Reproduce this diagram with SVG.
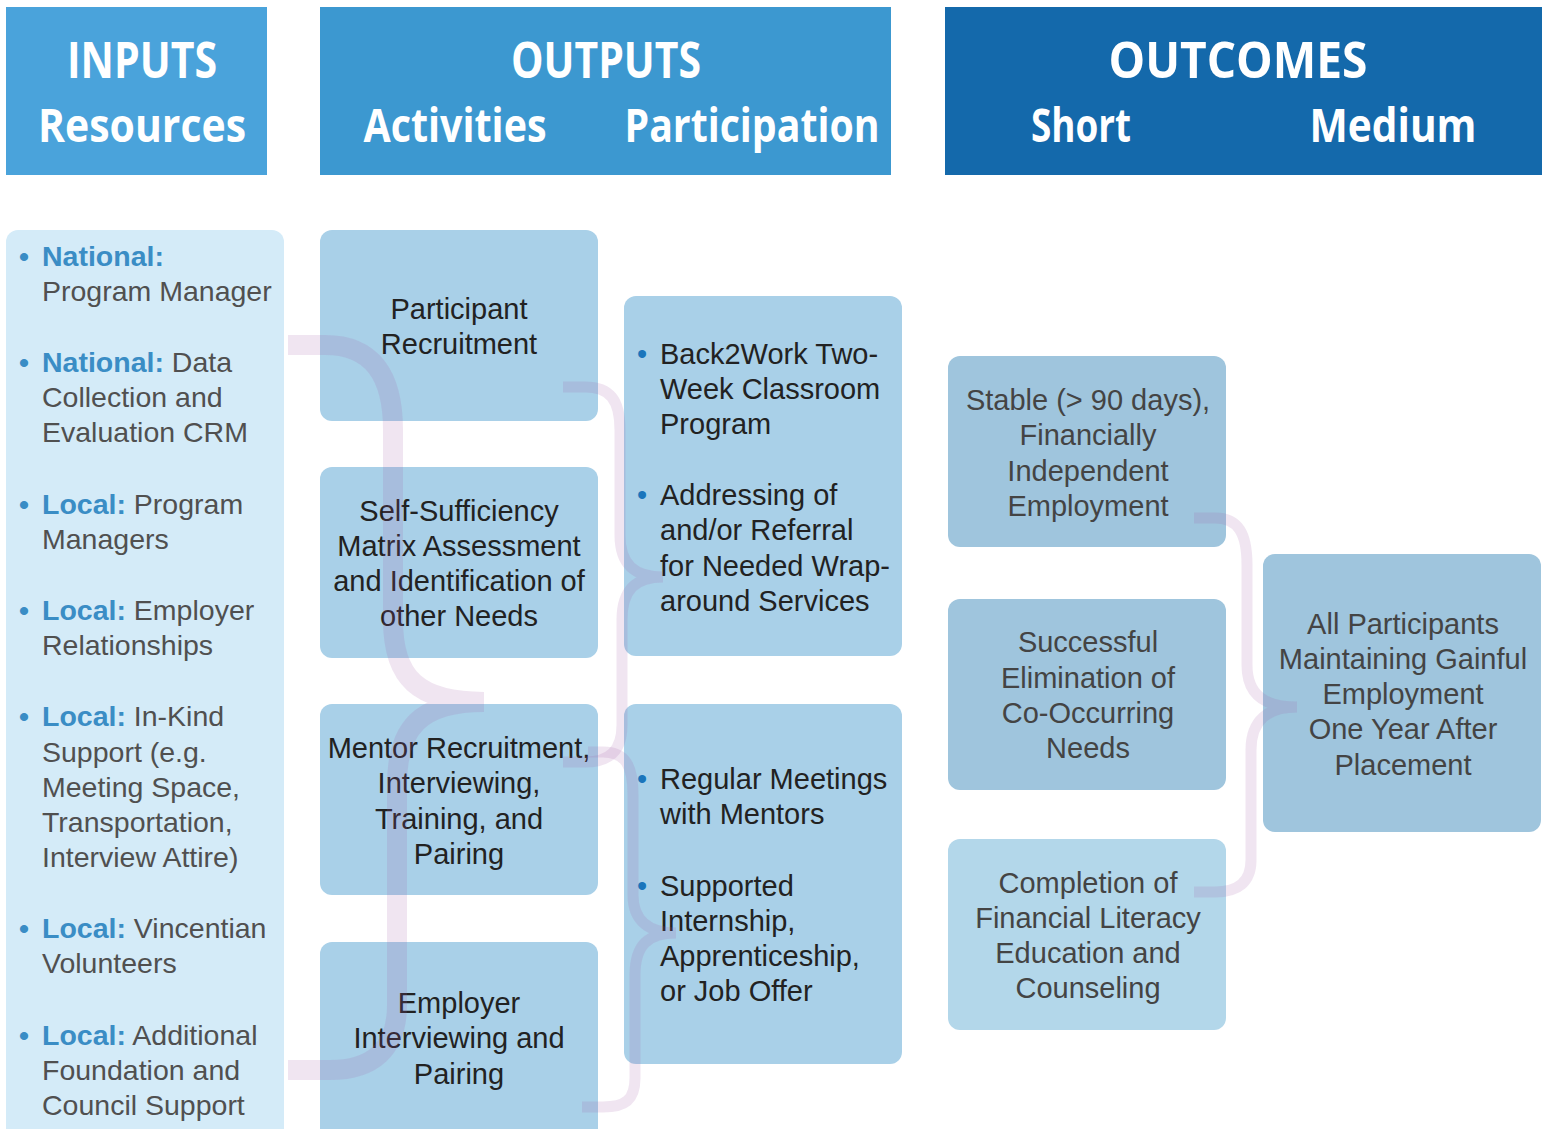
<svg xmlns="http://www.w3.org/2000/svg" width="1554" height="1129" viewBox="0 0 1554 1129">
<style>
.hd{fill:#fff;font-family:"Open Sans","Liberation Sans",sans-serif;font-weight:bold;text-anchor:middle}
.h1{font-size:50px}
.h2{font-size:46px}
.inp{font-family:"Liberation Sans",Arial,sans-serif;font-size:28.5px;fill:#505050}
.lbl{fill:#3a8dc5;font-weight:bold}
.act{font-family:"Liberation Sans",Arial,sans-serif;font-size:29px;fill:#222;text-anchor:middle}
.par{font-family:"Liberation Sans",Arial,sans-serif;font-size:29px;fill:#222}
.pb{fill:#1a75bb}
.out{font-family:"Liberation Sans",Arial,sans-serif;font-size:29px;fill:#444;text-anchor:middle}
.abox{fill:#a9d0e8}
.obox{fill:#9fc5dd}
.brace{fill:none;stroke:#a060a8;stroke-opacity:0.16}
</style>
<rect width="1554" height="1129" fill="#fff"/>
<g id="header-inputs">
<rect x="6" y="7" width="261" height="168" fill="#4aa3db"/>
<text class="hd h1" x="142" y="78" textLength="150" lengthAdjust="spacingAndGlyphs">INPUTS</text>
<text class="hd h2" x="142" y="142" textLength="208" lengthAdjust="spacingAndGlyphs">Resources</text>
</g>
<g id="header-outputs">
<rect x="320" y="7" width="571" height="168" fill="#3c98d0"/>
<text class="hd h1" x="606" y="78" textLength="190" lengthAdjust="spacingAndGlyphs">OUTPUTS</text>
<text class="hd h2" x="455" y="142" textLength="183" lengthAdjust="spacingAndGlyphs">Activities</text>
<text class="hd h2" x="752" y="142" textLength="255" lengthAdjust="spacingAndGlyphs">Participation</text>
</g>
<g id="header-outcomes">
<rect x="945" y="7" width="597" height="168" fill="#1469ab"/>
<text class="hd h1" x="1238" y="78" textLength="259" lengthAdjust="spacingAndGlyphs">OUTCOMES</text>
<text class="hd h2" x="1081" y="142" textLength="100" lengthAdjust="spacingAndGlyphs">Short</text>
<text class="hd h2" x="1393" y="142" textLength="167" lengthAdjust="spacingAndGlyphs">Medium</text>
</g>
<g id="inputs">
<rect x="6" y="230" width="278" height="912" rx="12" fill="#d4ebf8"/>
<text class="inp">
<tspan class="lbl" x="19" y="266">•</tspan><tspan class="lbl" x="42" y="266">National:</tspan>
<tspan x="42" y="301">Program Manager</tspan>
<tspan class="lbl" x="19" y="372">•</tspan><tspan class="lbl" x="42" y="372">National:</tspan><tspan> Data</tspan>
<tspan x="42" y="407">Collection and</tspan>
<tspan x="42" y="442">Evaluation CRM</tspan>
<tspan class="lbl" x="19" y="514">•</tspan><tspan class="lbl" x="42" y="514">Local:</tspan><tspan> Program</tspan>
<tspan x="42" y="549">Managers</tspan>
<tspan class="lbl" x="19" y="620">•</tspan><tspan class="lbl" x="42" y="620">Local:</tspan><tspan> Employer</tspan>
<tspan x="42" y="655">Relationships</tspan>
<tspan class="lbl" x="19" y="726">•</tspan><tspan class="lbl" x="42" y="726">Local:</tspan><tspan> In-Kind</tspan>
<tspan x="42" y="762">Support (e.g.</tspan>
<tspan x="42" y="797">Meeting Space,</tspan>
<tspan x="42" y="832">Transportation,</tspan>
<tspan x="42" y="867">Interview Attire)</tspan>
<tspan class="lbl" x="19" y="938">•</tspan><tspan class="lbl" x="42" y="938">Local:</tspan><tspan> Vincentian</tspan>
<tspan x="42" y="973">Volunteers</tspan>
<tspan class="lbl" x="19" y="1045">•</tspan><tspan class="lbl" x="42" y="1045">Local:</tspan><tspan> Additional</tspan>
<tspan x="42" y="1080">Foundation and</tspan>
<tspan x="42" y="1115">Council Support</tspan>
</text>
</g>
<g id="act-recruitment">
<rect class="abox" x="320" y="230" width="278" height="191" rx="12"/>
<text class="act"><tspan x="459" y="319">Participant</tspan><tspan x="459" y="354">Recruitment</tspan></text>
</g>
<g id="act-assessment">
<rect class="abox" x="320" y="467" width="278" height="191" rx="12"/>
<text class="act"><tspan x="459" y="521">Self-Sufficiency</tspan><tspan x="459" y="556">Matrix Assessment</tspan><tspan x="459" y="591">and Identification of</tspan><tspan x="459" y="626">other Needs</tspan></text>
</g>
<g id="act-mentor">
<rect class="abox" x="320" y="704" width="278" height="191" rx="12"/>
<text class="act"><tspan x="459" y="758">Mentor Recruitment,</tspan><tspan x="459" y="793">Interviewing,</tspan><tspan x="459" y="829">Training, and</tspan><tspan x="459" y="864">Pairing</tspan></text>
</g>
<g id="act-employer">
<rect class="abox" x="320" y="942" width="278" height="200" rx="12"/>
<text class="act"><tspan x="459" y="1013">Employer</tspan><tspan x="459" y="1048">Interviewing and</tspan><tspan x="459" y="1084">Pairing</tspan></text>
</g>
<g id="par-classroom">
<rect class="abox" x="624" y="296" width="278" height="360" rx="12"/>
<text class="par">
<tspan class="pb" x="637" y="364">•</tspan><tspan x="660" y="364">Back2Work Two-</tspan>
<tspan x="660" y="399">Week Classroom</tspan>
<tspan x="660" y="434">Program</tspan>
<tspan class="pb" x="637" y="505">•</tspan><tspan x="660" y="505">Addressing of</tspan>
<tspan x="660" y="540">and/or Referral</tspan>
<tspan x="660" y="576">for Needed Wrap-</tspan>
<tspan x="660" y="611">around Services</tspan>
</text>
</g>
<g id="par-mentors">
<rect class="abox" x="624" y="704" width="278" height="360" rx="12"/>
<text class="par">
<tspan class="pb" x="637" y="789">•</tspan><tspan x="660" y="789">Regular Meetings</tspan>
<tspan x="660" y="824">with Mentors</tspan>
<tspan class="pb" x="637" y="896">•</tspan><tspan x="660" y="896">Supported</tspan>
<tspan x="660" y="931">Internship,</tspan>
<tspan x="660" y="966">Apprenticeship,</tspan>
<tspan x="660" y="1001">or Job Offer</tspan>
</text>
</g>
<g id="out-stable">
<rect class="obox" x="948" y="356" width="278" height="191" rx="12"/>
<text class="out"><tspan x="1088" y="410">Stable (&gt; 90 days),</tspan><tspan x="1088" y="445">Financially</tspan><tspan x="1088" y="481">Independent</tspan><tspan x="1088" y="516">Employment</tspan></text>
</g>
<g id="out-needs">
<rect class="obox" x="948" y="599" width="278" height="191" rx="12"/>
<text class="out"><tspan x="1088" y="652">Successful</tspan><tspan x="1088" y="688">Elimination of</tspan><tspan x="1088" y="723">Co-Occurring</tspan><tspan x="1088" y="758">Needs</tspan></text>
</g>
<g id="out-literacy">
<rect x="948" y="839" width="278" height="191" rx="12" fill="#b3d7ea"/>
<text class="out"><tspan x="1088" y="893">Completion of</tspan><tspan x="1088" y="928">Financial Literacy</tspan><tspan x="1088" y="963">Education and</tspan><tspan x="1088" y="998">Counseling</tspan></text>
</g>
<g id="out-medium">
<rect class="obox" x="1263" y="554" width="278" height="278" rx="12"/>
<text class="out"><tspan x="1403" y="634">All Participants</tspan><tspan x="1403" y="669">Maintaining Gainful</tspan><tspan x="1403" y="704">Employment</tspan><tspan x="1403" y="739">One Year After</tspan><tspan x="1403" y="775">Placement</tspan></text>
</g>
<g id="connectors">
<path class="brace" stroke-width="20" d="M288 345 H325 C372 345 393 375 393 430 V620 C393 678 418 702 484 702 C420 702 397 728 397 785 V1005 C397 1050 372 1070 330 1070 H288"/>
<path class="brace" stroke-width="11" d="M563 387 H585 C610 387 620 400 620 430 V535 C620 565 635 577 663 577 C635 577 622 590 622 620 V725 C622 750 610 762 585 762 H563"/>
<path class="brace" stroke-width="11" d="M588 752 H603 C625 752 633 765 633 795 V895 C633 920 648 933 676 933 C648 933 635 945 635 975 V1078 C635 1100 625 1107 603 1107 H582"/>
<path class="brace" stroke-width="11" d="M1194 518 H1215 C1238 518 1247 533 1247 565 V665 C1247 695 1265 707 1297 707 C1268 707 1251 720 1251 750 V860 C1251 882 1238 892 1215 892 H1194"/>
</g>
</svg>
